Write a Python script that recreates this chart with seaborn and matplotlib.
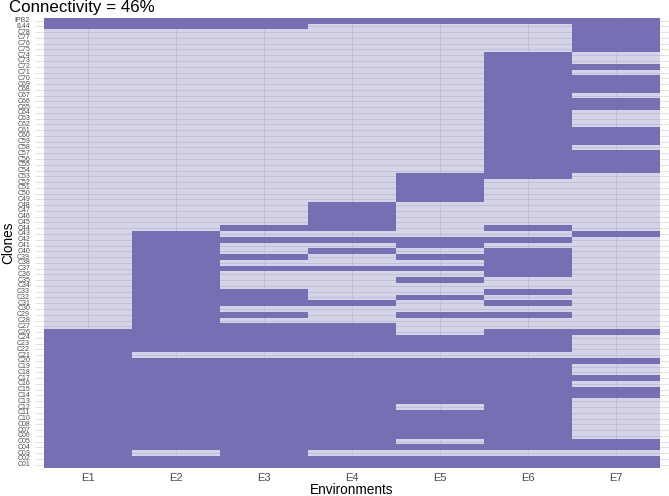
import numpy as np
import pandas as pd
import matplotlib
matplotlib.use("Agg")
import matplotlib.pyplot as plt
import seaborn as sns
from matplotlib.colors import ListedColormap

# ---------------- data (top row -> bottom row) ----------------
clones = ["IPB2", "I144", "C78", "C77", "C76", "C75", "C74", "C73", "C72", "C71",
          "C70", "C69", "C68", "C67", "C66", "C65", "C64", "C63", "C62", "C61",
          "C60", "C59", "C58", "C57", "C56", "C55", "C54", "C53", "C52", "C51",
          "C50", "C49", "C48", "C47", "C46", "C45", "C44", "C43", "C42", "C41",
          "C40", "C39", "C38", "C37", "C36", "C35", "C34", "C33", "C32", "C31",
          "C30", "C29", "C28", "C27", "C26", "C24", "C23", "C22", "C21", "C20",
          "C19", "C18", "C17", "C16", "C15", "C14", "C13", "C12", "C11", "C10",
          "C08", "C07", "C06", "C05", "C04", "C03", "C02", "C01"]

environments = ["E1", "E2", "E3", "E4", "E5", "E6", "E7"]

E1 = [1,1,0,0,0,0,0,0,0,0, 0,0,0,0,0,0,0,0,0,0, 0,0,0,0,0,0,0,0,0,0, 0,0,0,0,0,0,0,0,0,0,
      0,0,0,0,0,0,0,0,0,0, 0,0,0,0,1,1,1,1,1,1, 1,1,1,1,1,1,1,1,1,1, 1,1,1,1,1,1,1,1]
E2 = [1,1,0,0,0,0,0,0,0,0, 0,0,0,0,0,0,0,0,0,0, 0,0,0,0,0,0,0,0,0,0, 0,0,0,0,0,0,0,1,1,1,
      1,1,1,1,1,1,1,1,1,1, 1,1,1,1,1,1,1,1,0,1, 1,1,1,1,1,1,1,1,1,1, 1,1,1,1,1,0,1,1]
E3 = [1,1,0,0,0,0,0,0,0,0, 0,0,0,0,0,0,0,0,0,0, 0,0,0,0,0,0,0,0,0,0, 0,0,0,0,0,0,1,0,1,0,
      0,1,0,1,0,0,0,1,1,1, 0,1,0,1,1,1,1,1,0,1, 1,1,1,1,1,1,1,1,1,1, 1,1,1,1,1,1,1,1]
E4 = [1,0,0,0,0,0,0,0,0,0, 0,0,0,0,0,0,0,0,0,0, 0,0,0,0,0,0,0,0,0,0, 0,0,1,1,1,1,1,0,1,0,
      1,0,0,1,0,0,0,0,0,1, 0,0,0,1,1,1,1,1,0,1, 1,1,1,1,1,1,1,1,1,1, 1,1,1,1,1,0,1,1]
E5 = [1,0,0,0,0,0,0,0,0,0, 0,0,0,0,0,0,0,0,0,0, 0,0,0,0,0,0,0,1,1,1, 1,1,0,0,0,0,0,0,1,1,
      0,1,0,1,0,1,0,0,1,0, 0,1,0,0,0,1,1,1,0,1, 1,1,1,1,1,1,1,0,1,1, 1,1,1,0,1,0,1,1]
E6 = [1,0,0,0,0,0,1,1,1,1, 1,1,1,1,1,1,1,1,1,1, 1,1,1,1,1,1,1,1,0,0, 0,0,0,0,0,0,1,0,1,0,
      1,1,1,1,1,0,0,1,0,1, 0,1,0,0,1,1,1,1,0,1, 1,1,1,1,1,1,1,1,1,1, 1,1,1,1,1,0,1,1]
E7 = [1,1,1,1,1,1,0,0,1,0, 1,1,1,0,1,1,0,0,0,1, 1,1,0,1,1,1,1,0,0,0, 0,0,0,0,0,0,0,1,0,0,
      0,0,0,0,0,0,0,0,0,0, 0,0,0,0,1,0,0,0,0,1, 0,0,1,0,1,1,0,0,0,0, 0,0,0,1,1,0,1,1]

title_text = "Connectivity = 46%"

df = pd.DataFrame({"E1": E1, "E2": E2, "E3": E3, "E4": E4,
                   "E5": E5, "E6": E6, "E7": E7}, index=clones)[environments]

# ---------------- style ----------------
sns.set_theme(style="white")
plt.rcParams['font.family'] = ['Liberation Sans', 'DejaVu Sans']

W, H = 669, 496
fig = plt.figure(figsize=(W / 100, H / 100), dpi=100)
fig.patch.set_facecolor("white")

left, right, top, bottom = 35, 669, 17.4, 467.9
ax = fig.add_axes([left / W, 1 - bottom / H, (right - left) / W, (bottom - top) / H])

purple = (117 / 255, 112 / 255, 179 / 255)
cmap = ListedColormap([(*purple, 0.3), (*purple, 1.0)])

sns.heatmap(df, ax=ax, cmap=cmap, vmin=0, vmax=1, cbar=False, linewidths=0)

nrow, ncol = df.shape
ax.set_xlim(-0.1, ncol + 0.1)
ax.set_ylim(nrow + 0.06, -0.06)

# ggplot-like grid lines beneath the translucent tiles
for x in np.arange(ncol) + 0.5:
    ax.axvline(x, color="#E3E3E3", lw=0.7, zorder=0.5)
for y in np.arange(nrow) + 0.5:
    ax.axhline(y, color="#E3E3E3", lw=0.7, zorder=0.5)

for s in ax.spines.values():
    s.set_visible(False)

ax.set_xticks(np.arange(ncol) + 0.5)
ax.set_xticklabels(environments, fontsize=8, color="#4D4D4D")
ax.set_yticks(np.arange(nrow) + 0.5)
ax.set_yticklabels(clones, fontsize=5, color="#4D4D4D", rotation=0)
ax.tick_params(axis="x", length=0, pad=3.6)
ax.tick_params(axis="y", length=0, pad=3.6)
ax.set_xlabel("")
ax.set_ylabel("")

fig.text(352 / W, 1 - 490 / H, "Environments", ha="center", va="center",
         fontsize=9.8, color="black")
fig.text(8 / W, 1 - 243 / H, "Clones", ha="center", va="center",
         rotation=90, fontsize=9.8, color="black")
fig.text(9 / W, 1 - 12 / H, title_text, ha="left", va="baseline",
         fontsize=12.2, color="black")

fig.savefig("out.png", dpi=100, facecolor="white")
